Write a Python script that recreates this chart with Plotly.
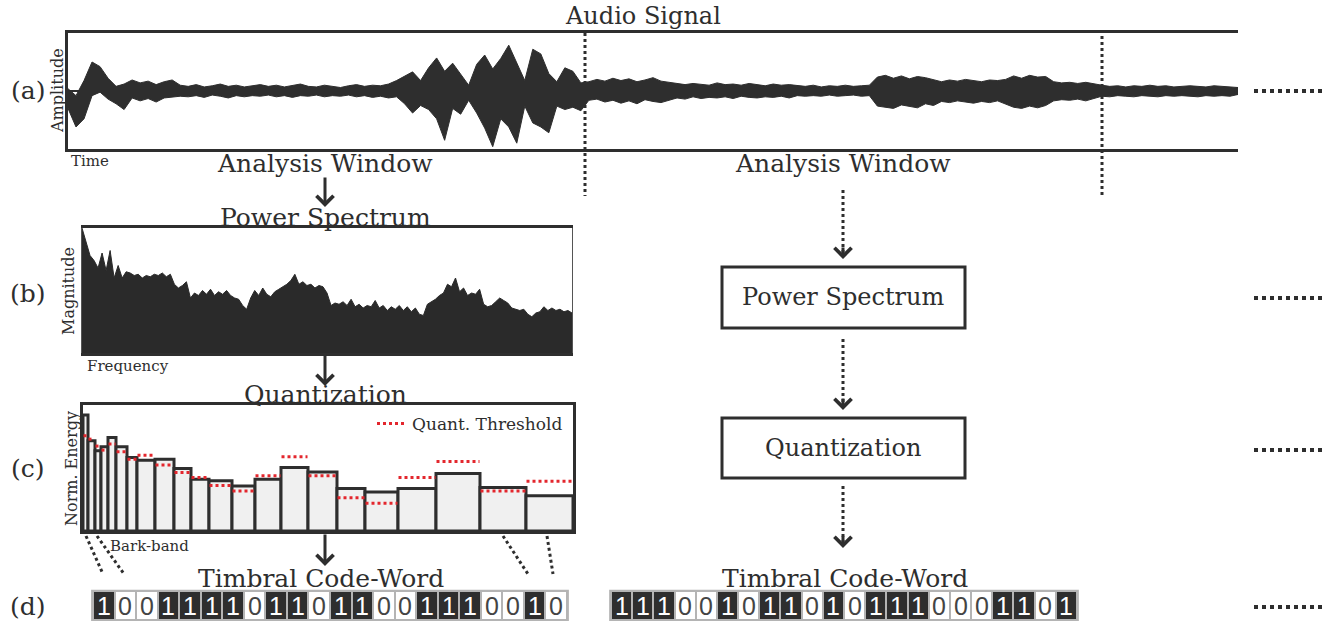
import plotly.graph_objects as go

W, H = 1328, 621


def px(x):
    return x / W


def py(y):
    return 1 - y / H


# ---------------- data ----------------
# (a) audio signal envelope (amplitude in % of full scale), one sample per time step
wave_upper = [4, -8, 18, 50, 42, 22, 8, 12, 19, 14, 17, 11, 16, 19, 10, 8, 11, 7, 9, 12,
              8, 10, 7, 9, 11, 8, 10, 7, 9, 12, 8, 7, 10, 8, 6, 9, 11, 8, 10, 9,
              12, 18, 25, 33, 18, 40, 57, 34, 48, 30, 10, 46, 62, 38, 56, 79, 48, 18, 72, 64,
              30, 16, 40, 34, 14, 16, 20, 17, 22, 18, 21, 16, 19, 23, 17, 15, 14, 11, 13, 12,
              10, 14, 11, 12, 10, 13, 11, 9, 12, 10, 11, 9, 8, 10, 7, 9, 8, 10, 8, 9,
              10, 24, 27, 22, 26, 21, 25, 23, 20, 16, 19, 17, 20, 18, 16, 19, 18, 20, 26, 22,
              27, 24, 25, 16, 14, 15, 13, 15, 12, 10, 8, 9, 7, 9, 8, 10, 8, 9, 7, 8,
              9, 8, 7, 9, 8, 7, 6]
wave_lower = [-30, -62, -48, -8, -2, -14, -22, -32, -12, -17, -13, -19, -12, -10, -9, -10, -8, -11, -7, -9,
              -12, -8, -10, -8, -9, -7, -10, -8, -11, -8, -9, -7, -10, -8, -9, -7, -10, -8, -11, -9,
              -12, -10, -22, -38, -25, -32, -48, -85, -30, -40, -16, -38, -64, -96, -48, -62, -90, -26, -55, -62,
              -72, -26, -32, -28, -34, -16, -14, -19, -16, -21, -17, -22, -15, -18, -20, -16, -12, -14, -10, -13,
              -11, -12, -10, -13, -9, -11, -12, -10, -11, -9, -12, -8, -9, -8, -9, -7, -9, -8, -7, -9,
              -8, -26, -28, -30, -24, -27, -29, -22, -25, -18, -20, -17, -19, -21, -18, -20, -17, -22, -28, -30,
              -26, -29, -25, -17, -15, -16, -14, -17, -13, -9, -10, -8, -9, -10, -8, -9, -10, -8, -9, -8,
              -9, -10, -8, -9, -8, -9, -6]
wave_time = list(range(len(wave_upper)))

# (b) power spectrum magnitude (% of full scale) per frequency bin
spec_mag = [100, 88, 78, 74, 68, 80, 66, 82, 60, 70, 60, 65, 64, 62, 63, 60, 62, 61, 63, 62,
            64, 61, 63, 55, 52, 54, 57, 44, 48, 46, 50, 47, 51, 46, 49, 47, 50, 46, 44, 43,
            38, 35, 44, 50, 46, 52, 47, 45, 49, 51, 53, 55, 58, 63, 55, 57, 54, 55, 52, 54,
            53, 48, 38, 40, 39, 41, 38, 43, 37, 39, 36, 38, 37, 42, 36, 38, 34, 37, 35, 38,
            34, 37, 33, 36, 31, 30, 39, 41, 43, 46, 48, 55, 53, 60, 49, 52, 46, 48, 47, 51,
            39, 37, 38, 41, 44, 42, 40, 36, 35, 34, 35, 31, 29, 32, 33, 37, 34, 36, 34, 35,
            33, 34, 32]
spec_bin = list(range(len(spec_mag)))

# (c) Bark-band quantization
bark_edges = [0, 5, 12, 18, 25, 33, 44, 54, 72, 91, 108, 126, 149, 172, 198, 225, 254, 282,
              315, 353, 397, 443, 490]
band_energy = [92.0, 71.6, 63.7, 66.8, 74.3, 66.8, 58.4, 56.2, 57.0, 49.6, 41.1, 39.8, 35.8,
               41.1, 50.4, 46.9, 33.7, 31.0, 33.7, 45.6, 34.5, 27.9]
quant_threshold = [75.6, 72.9, 67.4, 64.2, 69.0, 62.9, 57.0, 60.2, 52.3, 46.4, 42.4, 36.1, 31.8,
                   43.8, 58.9, 43.8, 26.3, 22.0, 42.4, 55.2, 31.8, 39.5]

# (d) timbral code-words
code_word_1 = [1, 0, 0, 1, 1, 1, 1, 0, 1, 1, 0, 1, 1, 0, 0, 1, 1, 1, 0, 0, 1, 0]
code_word_2 = [1, 1, 1, 0, 0, 1, 0, 1, 1, 0, 1, 0, 1, 1, 1, 0, 0, 0, 1, 1, 0, 1]

# ---------------- styling ----------------
INK = "#2e2e2e"
SERIF = "DejaVu Serif"
SANS = "Liberation Sans Narrow, Liberation Sans, Arial"
RED = "#e3262d"

fig = go.Figure()

# (a) waveform envelope
fig.add_trace(go.Scatter(x=wave_time, y=wave_lower, mode="lines",
                         line=dict(color=INK, width=1), showlegend=False,
                         xaxis="x", yaxis="y", hoverinfo="skip"))
fig.add_trace(go.Scatter(x=wave_time, y=wave_upper, mode="lines", fill="tonexty",
                         fillcolor=INK, line=dict(color=INK, width=1), showlegend=False,
                         xaxis="x", yaxis="y", hoverinfo="skip"))
fig.add_trace(go.Scatter(x=[wave_time[-1]], y=[0], mode="markers",
                         marker=dict(color=INK, size=8), showlegend=False,
                         xaxis="x", yaxis="y", hoverinfo="skip"))

# (b) power spectrum
fig.add_trace(go.Scatter(x=spec_bin, y=spec_mag, mode="lines", fill="tozeroy",
                         fillcolor="#2a2a2a", line=dict(color="#2a2a2a", width=1),
                         showlegend=False, xaxis="x2", yaxis="y2", hoverinfo="skip"))

# (c) bark-band energies
centers = [(bark_edges[i] + bark_edges[i + 1]) / 2 for i in range(len(band_energy))]
widths = [bark_edges[i + 1] - bark_edges[i] for i in range(len(band_energy))]
fig.add_trace(go.Bar(x=centers, y=band_energy, width=widths,
                     marker=dict(color="#f0f0f0", line=dict(color=INK, width=3)),
                     showlegend=False, xaxis="x3", yaxis="y3", hoverinfo="skip"))
tx, ty = [], []
for i, t in enumerate(quant_threshold):
    tx += [bark_edges[i] + 0.5, bark_edges[i + 1] - 0.5, None]
    ty += [t, t, None]
fig.add_trace(go.Scatter(x=tx, y=ty, mode="lines", name="Quant. Threshold",
                         line=dict(color=RED, width=3, dash="dot"),
                         showlegend=True, xaxis="x3", yaxis="y3", hoverinfo="skip"))

# (d) code-words
for cw, xa, ya in [(code_word_1, "x4", "y4"), (code_word_2, "x5", "y5")]:
    fig.add_trace(go.Heatmap(z=[cw], x=list(range(len(cw))), y=[0],
                             colorscale=[[0, "#ffffff"], [1, "#2e2e2e"]], zmin=0, zmax=1,
                             showscale=False, xgap=2, ygap=2,
                             texttemplate="%{z}", textfont=dict(family=SANS, size=25),
                             xaxis=xa, yaxis=ya, hoverinfo="skip"))

# ---------------- axes ----------------
base = dict(showgrid=False, showticklabels=False, ticks="", zeroline=False, fixedrange=True)
layout_axes = dict(
    xaxis=dict(base, domain=[px(68), px(1238)], range=[0, wave_time[-1]], showline=True,
               mirror=True, linecolor=INK, linewidth=3, anchor="y"),
    yaxis=dict(base, domain=[py(149), py(33)], range=[-100, 100], showline=True,
               mirror=False, linecolor=INK, linewidth=3, anchor="x",
               zeroline=True, zerolinecolor=INK, zerolinewidth=2),
    xaxis2=dict(base, domain=[px(82), px(572)], range=[0, spec_bin[-1]], showline=True,
                mirror=True, linecolor=INK, linewidth=3, anchor="y2"),
    yaxis2=dict(base, domain=[py(353), py(228)], range=[0, 100], showline=True,
                mirror=True, linecolor="#555", linewidth=1, anchor="x2"),
    xaxis3=dict(base, domain=[px(83), px(573)], range=[0, bark_edges[-1]], showline=True,
                mirror=True, linecolor=INK, linewidth=3, anchor="y3"),
    yaxis3=dict(base, domain=[py(531), py(405)], range=[0, 100], showline=True,
                mirror=True, linecolor=INK, linewidth=3, anchor="x3"),
    xaxis4=dict(base, domain=[px(93), px(567)], range=[-0.5, len(code_word_1) - 0.5], anchor="y4"),
    yaxis4=dict(base, domain=[py(620), py(591)], range=[-0.5, 0.5], anchor="x4"),
    xaxis5=dict(base, domain=[px(611), px(1077)], range=[-0.5, len(code_word_2) - 0.5], anchor="y5"),
    yaxis5=dict(base, domain=[py(620), py(591)], range=[-0.5, 0.5], anchor="x5"),
)

# ---------------- shapes ----------------
shapes = []


def pline(x0, y0, x1, y1, width=3, dash="dot", color=INK):
    shapes.append(dict(type="line", xref="paper", yref="paper",
                       x0=px(x0), y0=py(y0), x1=px(x1), y1=py(y1),
                       line=dict(color=color, width=width, dash=dash)))


# analysis window boundaries
pline(585, 33, 585, 196)
pline(1102, 36, 1102, 196)
# continuation dots
for yy in [91, 298, 450, 607]:
    pline(1254, yy, 1324, yy, width=4)
# right column boxes
for (y0, y1) in [(267, 328), (418, 478)]:
    shapes.append(dict(type="rect", xref="paper", yref="paper",
                       x0=px(722), x1=px(965), y0=py(y1), y1=py(y0),
                       line=dict(color=INK, width=3), fillcolor="white"))
# dotted arrow stems
pline(843, 190, 843, 252)
pline(843, 339, 843, 403)
pline(843, 486, 843, 541)
# bark-band pointers
pline(86, 536, 103, 574)
pline(97, 536, 124, 574)
pline(503, 536, 528, 574)
pline(547, 536, 553, 574)
# code-word grey frames
for xa, ya in [("x4", "y4"), ("x5", "y5")]:
    shapes.append(dict(type="rect", xref=xa + " domain", yref=ya + " domain",
                       x0=-0.004, x1=1.004, y0=-0.04, y1=1.04, layer="below",
                       line=dict(width=0), fillcolor="#b4b4b4"))

# ---------------- annotations ----------------
ann = []


def text(x, y, s, size=25, angle=0, xanchor="center", family=SERIF):
    ann.append(dict(x=px(x), y=py(y), xref="paper", yref="paper", text=s, showarrow=False,
                    xanchor=xanchor, yanchor="middle", textangle=angle,
                    font=dict(family=family, size=size, color=INK)))


def arrow(x, y_tail, y_tip):
    ann.append(dict(x=px(x), y=py(y_tip), xref="paper", yref="paper", text="",
                    showarrow=True, ax=0, ay=y_tail - y_tip, axref="pixel", ayref="pixel",
                    arrowhead=4, arrowsize=1.1, arrowwidth=3, arrowcolor=INK, standoff=0))


text(643, 16, "Audio Signal", 24)
text(28, 91, "(a)", 25)
text(58, 91, "Amplitude", 16, angle=-90)
text(69, 161, "Time", 15, xanchor="left")
text(325, 163, "Analysis Window", 25)
text(843, 163, "Analysis Window", 25)
text(325, 217, "Power Spectrum", 25)
text(28, 293, "(b)", 25)
text(68, 291, "Magnitude", 16, angle=-90)
text(85, 366, "Frequency", 15, xanchor="left")
text(325, 394, "Quantization", 25)
text(28, 468, "(c)", 25)
text(71, 469, "Norm. Energy", 16, angle=-90)
text(108, 546, "Bark-band", 15, xanchor="left")
text(321, 578, "Timbral Code-Word", 25)
text(845, 578, "Timbral Code-Word", 25)
text(28, 606, "(d)", 25)
text(843, 297, "Power Spectrum", 24)
text(843, 448, "Quantization", 24)

arrow(325, 176, 207)
arrow(325, 354, 386)
arrow(325, 533, 566)
arrow(843, 246, 259)
arrow(843, 397, 410)
arrow(843, 535, 548)

fig.update_layout(
    width=W, height=H, margin=dict(l=0, r=0, t=0, b=0),
    paper_bgcolor="white", plot_bgcolor="white",
    shapes=shapes, annotations=ann,
    showlegend=True,
    legend=dict(x=px(372), y=py(406), xanchor="left", yanchor="top",
                bgcolor="rgba(0,0,0,0)", font=dict(family=SERIF, size=17, color=INK),
                itemwidth=30, tracegroupgap=0),
    **layout_axes,
)

fig.write_html("out.html")
